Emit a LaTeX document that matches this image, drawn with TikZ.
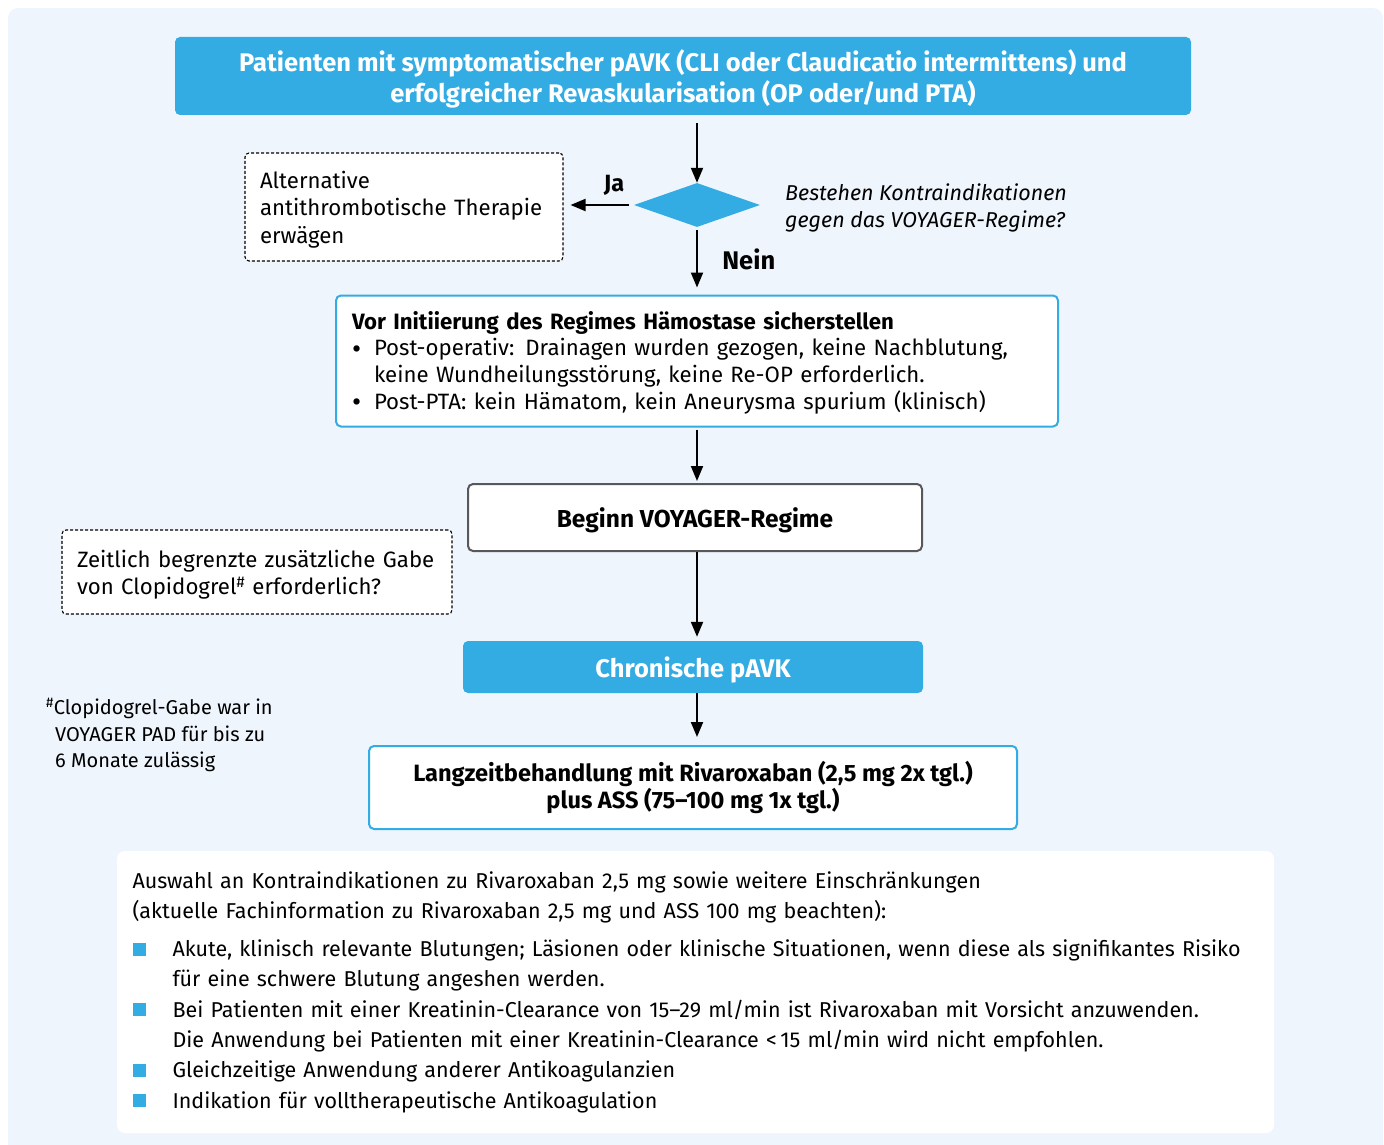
\documentclass[tikz,border=0pt]{standalone}
\usepackage{fontspec}
\setmainfont{Fira Sans}
\usetikzlibrary{arrows.meta, shapes.geometric, positioning}
\definecolor{voyagerblue}{RGB}{51, 171, 227}
\definecolor{panelblue}{RGB}{239, 245, 253}
\definecolor{framegray}{RGB}{88, 88, 88}

\newcommand{\sqbullet}{\makebox[40pt][l]{\textcolor{voyagerblue}{\rule[1pt]{13pt}{13pt}}}}
\newcommand{\dotbullet}{\makebox[22pt][l]{\raisebox{-2.5pt}{\fontsize{28}{26.7}\selectfont\textbullet}}}

\tikzset{
    bluebox/.style={rectangle, rounded corners=5pt, fill=voyagerblue, text=white, align=center, text depth=0pt},
    whitebox/.style={rectangle, rounded corners=5pt, fill=white, draw=voyagerblue, line width=2pt},
    dashbox/.style={rectangle, rounded corners=4pt, fill=white, draw=black, dash pattern=on 3pt off 2pt, line width=1.1pt, align=left, inner xsep=15pt, text height=22.5pt},
    flowarrow/.style={-{Triangle[length=15pt, width=12pt]}, line width=2pt},
    txt/.style={font=\fontsize{22.2}{27.5}\selectfont}
}

\begin{document}
\begin{tikzpicture}[x=1pt, y=-1pt]
    \useasboundingbox (0,0) rectangle (1384,1145);
    \clip (0,0) rectangle (1384,1145);
    \fill[panelblue, rounded corners=10pt] (8,8) rectangle (1383,1165);

    \node[bluebox, font=\fontsize{25.5}{31}\selectfont\bfseries, minimum width=1016pt, minimum height=78pt] (patients) at (683,76)
        {Patienten mit symptomatischer pAVK (CLI oder Claudicatio intermittens) und\\erfolgreicher Revaskularisation (OP oder/und PTA)};
    \node[diamond, fill=voyagerblue, minimum width=126pt, minimum height=44pt, inner sep=0pt] (check) at (697,205) {};
    \node[font=\fontsize{21.5}{27}\selectfont\itshape, anchor=west, align=left, inner sep=0pt] (question) at (785,208)
        {Bestehen Kontraindikationen\\gegen das VOYAGER-Regime?};
    \node[dashbox, txt, text width=288pt, minimum height=108pt] (alternative) at (404,207)
        {Alternative\\antithrombotische Therapie\\erwägen};

    \node[whitebox, font=\fontsize{22.2}{26.7}\selectfont, text width=690pt, minimum height=131pt, align=left, inner xsep=16pt, text height=21pt] (haemostasis) at (697,361)
        {\textbf{Vor Initiierung des Regimes Hämostase sicherstellen}\\
        \dotbullet Post-operativ: Drainagen wurden gezogen, keine Nachblutung,\\
        \hspace*{22pt}keine Wundheilungsstörung, keine Re-OP erforderlich.\\
        \dotbullet Post-PTA: kein Hämatom, kein Aneurysma spurium (klinisch)};

    \node[whitebox, draw=framegray, font=\fontsize{24.5}{27}\selectfont\bfseries, minimum width=454pt, minimum height=67pt, text depth=0pt] (start) at (695,517.5)
        {Beginn VOYAGER-Regime};
    \node[dashbox, txt, text width=360pt, minimum height=84pt] (clopidogrel) at (257,572)
        {Zeitlich begrenzte zusätzliche Gabe\\von Clopidogrel\textsuperscript{\#} erforderlich?};

    \node[bluebox, font=\fontsize{25.5}{30}\selectfont\bfseries, minimum width=460pt, minimum height=52pt] (chronic) at (693,667)
        {Chronische pAVK};
    \node[font=\fontsize{20}{26.5}\selectfont, anchor=west, align=left, inner sep=0pt] (footnote) at (46,735)
        {\textsuperscript{\#}Clopidogrel-Gabe war in\\\hspace*{9pt}VOYAGER PAD für bis zu\\\hspace*{9pt}6 Monate zulässig};

    \node[whitebox, font=\fontsize{23.6}{27}\selectfont\bfseries, minimum width=648pt, minimum height=83pt, align=center] (longterm) at (693,787.5)
        {Langzeitbehandlung mit Rivaroxaban (2,5 mg 2x tgl.)\\plus ASS (75--100 mg 1x tgl.)};

    \node[rectangle, rounded corners=8pt, fill=white, font=\fontsize{21.5}{30.3}\selectfont, text width=1126pt, minimum height=282pt, align=left, inner xsep=15.5pt] (contra) at (695.5,992)
        {Auswahl an Kontraindikationen zu Rivaroxaban 2,5 mg sowie weitere Einschränkungen\\
        (aktuelle Fachinformation zu Rivaroxaban 2,5 mg und ASS 100 mg beachten):\\[8pt]
        \sqbullet Akute, klinisch relevante Blutungen; Läsionen oder klinische Situationen, wenn diese als signifikantes Risiko\\
        \hspace*{40pt}für eine schwere Blutung angeshen werden.\\
        \sqbullet Bei Patienten mit einer Kreatinin-Clearance von 15--29 ml/min ist Rivaroxaban mit Vorsicht anzuwenden.\\
        \hspace*{40pt}Die Anwendung bei Patienten mit einer Kreatinin-Clearance <\,15 ml/min wird nicht empfohlen.\\
        \sqbullet Gleichzeitige Anwendung anderer Antikoagulanzien\\
        \sqbullet Indikation für volltherapeutische Antikoagulation};

    \draw[flowarrow, shorten <=8pt] (patients.south -| check) -- (check.north);
    \draw[flowarrow, shorten <=5pt, shorten >=7pt] (check.west) -- node[pos=0.28, above=5pt, font=\fontsize{23.5}{27}\selectfont\bfseries] {Ja} (check.west -| alternative.east);
    \draw[flowarrow, shorten <=3pt, shorten >=7pt] (check.south) -- node[pos=0.48, right=21pt, font=\fontsize{25.5}{30}\selectfont\bfseries] {Nein} (haemostasis.north -| check);
    \draw[flowarrow, shorten <=2pt, shorten >=2pt] (haemostasis.south -| check) -- (start.north -| check);
    \draw[flowarrow, shorten >=4pt] (start.south -| check) -- (chronic.north -| check);
    \draw[flowarrow, shorten >=8pt] (chronic.south -| check) -- (longterm.north -| check);
\end{tikzpicture}
\end{document}
